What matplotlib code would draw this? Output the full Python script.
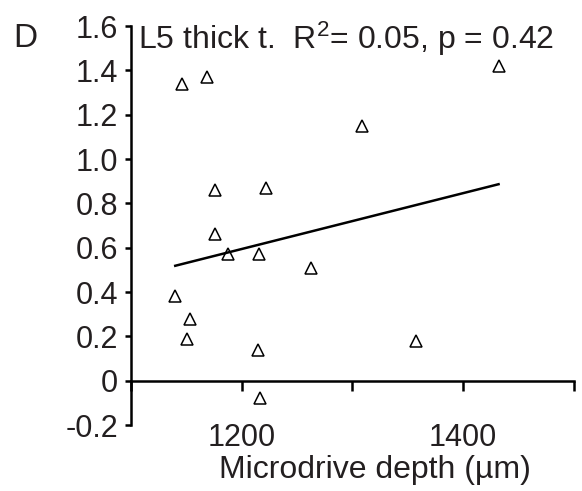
import matplotlib
matplotlib.use('Agg')
import numpy as np
import matplotlib.pyplot as plt

plt.rcParams['font.family'] = ['Liberation Sans', 'DejaVu Sans']
plt.rcParams['axes.unicode_minus'] = False
plt.rcParams['mathtext.default'] = 'regular'

ink = '#231f20'

# Data
depth = [1146, 1169, 1432, 1309, 1176, 1222, 1176, 1188,
         1216, 1263, 1140, 1153, 1151, 1215, 1357, 1217]
thickness = [1.34, 1.37, 1.42, 1.15, 0.86, 0.87, 0.66, 0.57,
             0.57, 0.51, 0.38, 0.28, 0.19, 0.14, 0.18, -0.08]
fit_slope = 0.00126
fit_intercept = -0.918

x_ticks = [1100, 1200, 1300, 1400, 1500]
x_tick_labels = ['', '1200', '', '1400', '']
y_ticks = [-0.2, 0, 0.2, 0.4, 0.6, 0.8, 1.0, 1.2, 1.4, 1.6]
y_tick_labels = ['-0.2', '0', '0.2', '0.4', '0.6', '0.8', '1.0', '1.2', '1.4', '1.6']

fig = plt.figure(figsize=(5.82, 4.91), dpi=100)
ax = fig.add_axes([0.225, 0.1344, 0.761, 0.8126])

ax.plot(depth, thickness, linestyle='none', marker='^', markersize=9,
        markerfacecolor='white', markeredgecolor='black', markeredgewidth=1.1)

fit_x = np.array([min(depth), max(depth)])
ax.plot(fit_x, fit_slope * fit_x + fit_intercept, color='black', lw=1.8)

ax.set_xlim(1100, 1500)
ax.set_ylim(-0.2, 1.6)

ax.spines['top'].set_visible(False)
ax.spines['right'].set_visible(False)
ax.spines['bottom'].set_position(('data', 0))
for s in ('left', 'bottom'):
    ax.spines[s].set_linewidth(1.8)
    ax.spines[s].set_color('black')

ax.set_xticks(x_ticks)
ax.set_xticklabels(x_tick_labels)
ax.set_yticks(y_ticks)
ax.set_yticklabels(y_tick_labels)
ax.tick_params(axis='x', direction='out', length=7.2, width=1.8, pad=23,
               labelsize=22, labelcolor=ink)
ax.tick_params(axis='y', direction='out', length=4.3, width=1.8, pad=5,
               labelsize=22, labelcolor=ink)

fig.text(13 / 582, 1 - 47 / 491, 'D', fontsize=24, color=ink, va='baseline')
fig.text(138 / 582, 1 - 49 / 491, 'L5 thick t.  R$^2$= 0.05, p = 0.42',
         fontsize=23, color=ink, va='baseline')
fig.text(375 / 582, 1 - 478 / 491, 'Microdrive depth (\u00b5m)', fontsize=23,
         color=ink, ha='center', va='baseline')

fig.savefig('out.png', dpi=100)
